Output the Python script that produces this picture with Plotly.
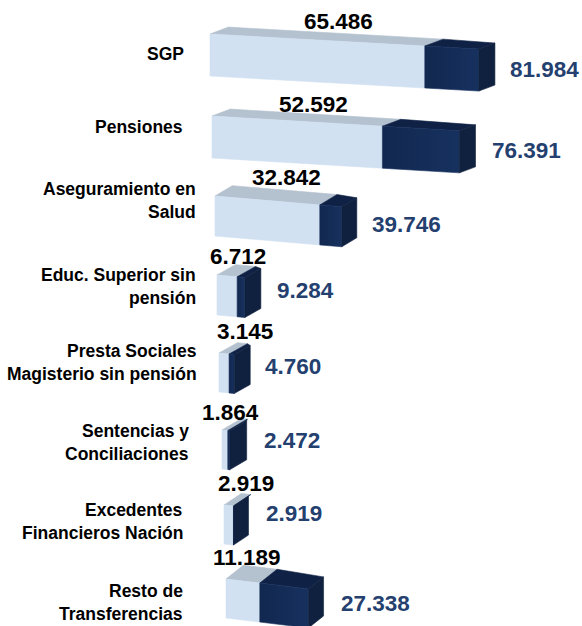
import plotly.graph_objects as go

categories = ["SGP", "Pensiones", "Aseguramiento en<br>Salud", "Educ. Superior sin<br>pensión",
              "Presta Sociales<br>Magisterio sin pensión", "Sentencias y<br>Conciliaciones",
              "Excedentes<br>Financieros Nación", "Resto de<br>Transferencias"]
light_values = [65486, 52592, 32842, 6712, 3145, 1864, 2919, 11189]
dark_values = [81984, 76391, 39746, 9284, 4760, 2472, 2919, 27338]

# layout of the perspective view (pixels)
row_left = [210, 212, 215, 217, 219, 222, 224, 226]
row_top = [34, 116, 196, 275, 353, 430, 505, 579]
row_height = [42, 42, 40, 40, 39, 39, 39, 39]
row_scale = [.00328, .00324, .00319, .00300, .00320, .00310, .00325, .00302]
row_slope = [.056, .060, .085, .09, .10, .10, .11, .12]
depth_dx = [16, 16, 15, 16, 16, 17, 15, 15]
depth_dy = [-6, -6, -9, -9, -9, -10, -10, -12]
label_right = [186, 185, 198, 198, 199, 191, 185, 185]
label_y = [54, 127, 189, 275, 351, 431, 510, 591]
black_x = [338, 313, 286, 238, 245, 230, 246, 247]
black_y = [21, 104, 177, 256, 331, 412, 483, 557]
blue_x = [508, 490, 370, 275, 263, 262, 264, 339]
blue_y = [69, 150, 224, 290, 366, 440, 513, 603]

LIGHT, LIGHT_TOP = "#d2e1f2", "#b4c1cf"
DARK_A, DARK_B, DARK_TOP, DARK_SIDE = "#11284f", "#17315f", "#0f2145", "#10213f"
BLACK_TEXT, BLUE_TEXT = "#000000", "#24406f"
FONT = "Liberation Sans"


def project(i, value, bottom=0, back=0):
    x = row_left[i] + value * row_scale[i]
    y = row_top[i] + (x - row_left[i]) * row_slope[i] + bottom * row_height[i]
    return x + back * depth_dx[i], y + back * depth_dy[i]


def face(i, corners, color=None, gradient=False):
    pts = [project(i, *c) for c in corners]
    pts.append(pts[0])
    kw = dict(fillgradient=dict(type="horizontal", colorscale=[[0, DARK_A], [1, DARK_B]])) if gradient else dict(fillcolor=color)
    return go.Scatter(x=[p[0] for p in pts], y=[p[1] for p in pts], mode="lines", fill="toself",
                      line=dict(width=0.6, color=color or DARK_B), hoverinfo="skip", showlegend=False, **kw)


fig = go.Figure()
for i in range(len(categories)):
    a, b = light_values[i], dark_values[i]
    # top faces, front faces, side face
    fig.add_trace(face(i, [(0, 0, 0), (a, 0, 0), (a, 0, 1.15), (0, 0, 1.15)], LIGHT_TOP))
    fig.add_trace(face(i, [(a, 0, 0), (b, 0, 0), (b, 0, 1), (a, 0, 1.15)], DARK_TOP))
    fig.add_trace(face(i, [(0, 0, 0), (a, 0, 0), (a, 1, 0), (0, 1, 0)], LIGHT))
    fig.add_trace(face(i, [(a, 0, 0), (b, 0, 0), (b, 1, 0), (a, 1, 0)], gradient=True))
    fig.add_trace(face(i, [(b, 0, 0), (b, 0, 1), (b, 1, 1), (b, 1, 0)], DARK_SIDE))

annotations = []
for i, name in enumerate(categories):
    for k, line in enumerate(name.split("<br>")):
        annotations.append(dict(x=label_right[i], y=label_y[i] + 23 * k, text=line, xanchor="right", yanchor="middle",
                                showarrow=False, font=dict(family=FONT, size=17.5, color=BLACK_TEXT, weight=700)))
    annotations.append(dict(x=black_x[i], y=black_y[i], text=f"{light_values[i]:,}".replace(",", "."), xanchor="center",
                            yanchor="middle", showarrow=False,
                            font=dict(family=FONT, size=22.5, color=BLACK_TEXT, weight=700)))
    annotations.append(dict(x=blue_x[i], y=blue_y[i], text=f"{dark_values[i]:,}".replace(",", "."), xanchor="left",
                            yanchor="middle", showarrow=False,
                            font=dict(family=FONT, size=22.5, color=BLUE_TEXT, weight=700)))

fig.update_layout(width=582, height=626, margin=dict(l=0, r=0, t=0, b=0), paper_bgcolor="white", plot_bgcolor="white",
                  xaxis=dict(range=[0, 582], visible=False, fixedrange=True),
                  yaxis=dict(range=[626, 0], visible=False, fixedrange=True),
                  annotations=annotations, showlegend=False)
fig.write_html("out.html", config={"displayModeBar": False},
               post_script="document.body.style.margin='0';")
